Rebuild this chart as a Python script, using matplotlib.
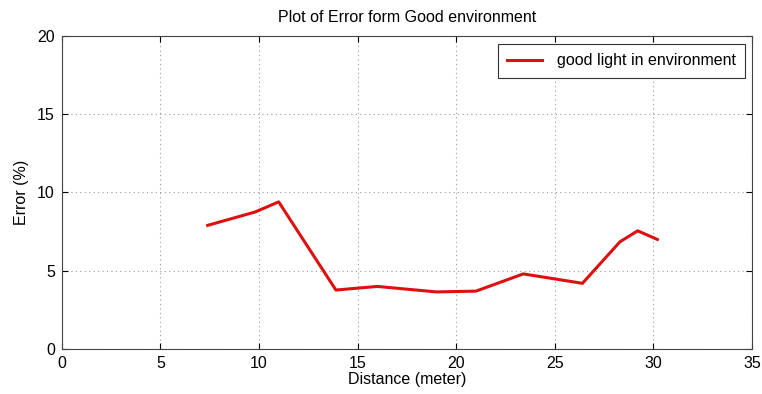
import matplotlib
matplotlib.use("Agg")
import matplotlib.pyplot as plt

plt.rcParams['font.family'] = ['Liberation Sans', 'DejaVu Sans']

distance = [7.4, 9.8, 11.0, 13.9, 16.0, 19.0, 21.0, 23.4, 26.4, 28.3, 29.2, 30.2]
error = [7.9, 8.75, 9.4, 3.77, 4.0, 3.65, 3.7, 4.8, 4.2, 6.85, 7.55, 7.0]
xticks = [0, 5, 10, 15, 20, 25, 30, 35]
yticks = [0, 5, 10, 15, 20]

fig = plt.figure(figsize=(7.62, 3.94), dpi=100)
ax = fig.add_axes([0.081, 0.114, 0.906, 0.795])

ax.plot(distance, error, color='#dd1010', linewidth=2.2, label='good light in environment')

ax.set_xlim(0, 35)
ax.set_ylim(0, 20)
ax.set_xticks(xticks)
ax.set_yticks(yticks)
ax.tick_params(direction='in', labelsize=11.5, length=4, top=True, right=True, pad=5)
ax.grid(True, linestyle=(0, (1, 3)), color='#999999', linewidth=0.8)
for s in ax.spines.values():
    s.set_color('#444444')

ax.set_title('Plot of Error form Good environment', fontsize=11.5, pad=10)
ax.set_xlabel('Distance (meter)', fontsize=11.5, labelpad=1)
ax.set_ylabel('Error (%)', fontsize=11.5, labelpad=6)

leg = ax.legend(loc='upper right', fontsize=11.5, fancybox=False, framealpha=1,
                edgecolor='#333333', borderpad=0.6, handlelength=2.2,
                handletextpad=0.9, borderaxespad=0, bbox_to_anchor=(0.99, 0.975))
leg.get_frame().set_linewidth(0.8)

fig.savefig('out.png', dpi=100)
